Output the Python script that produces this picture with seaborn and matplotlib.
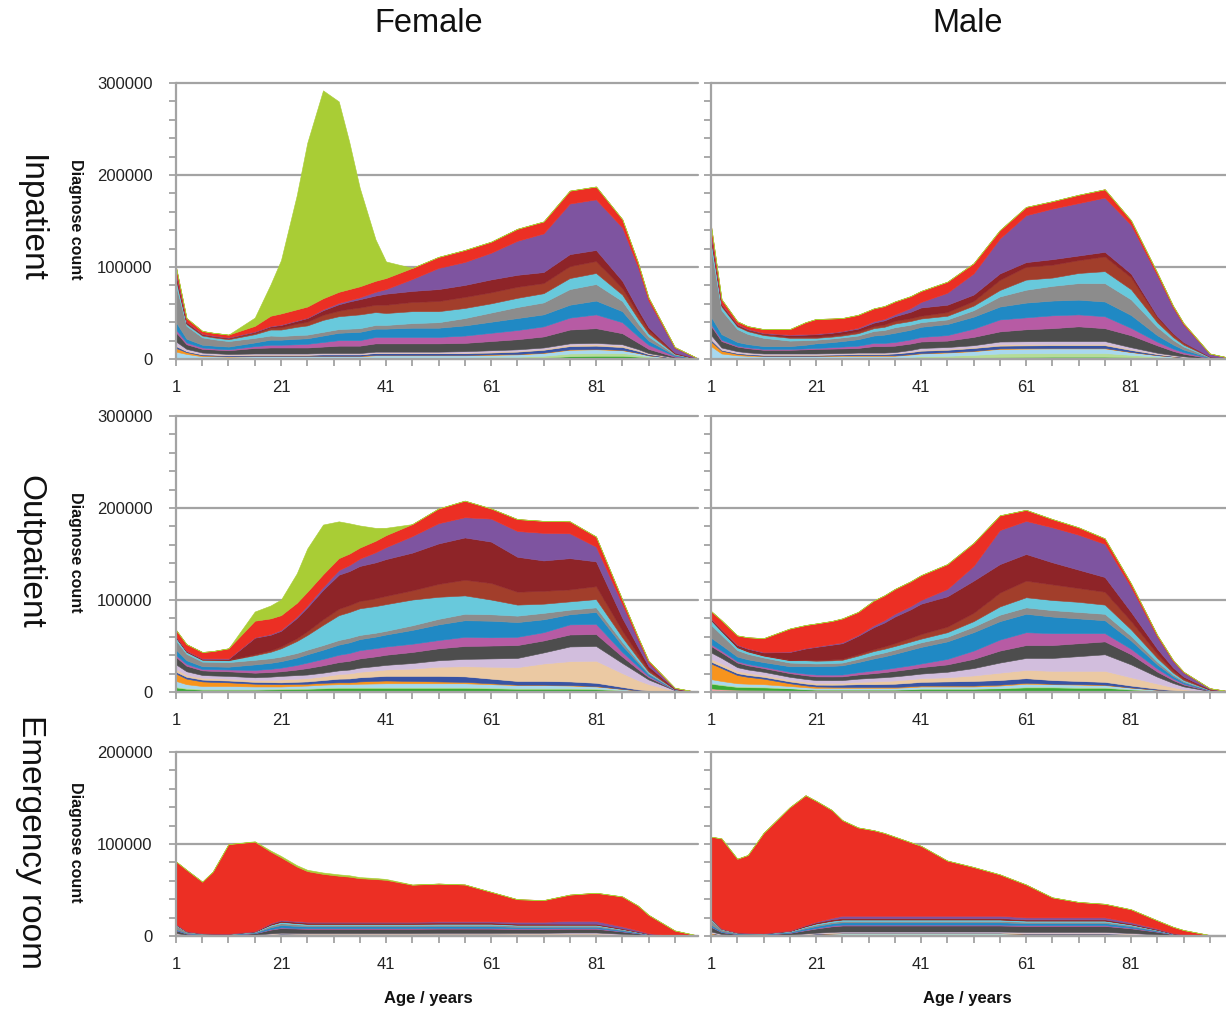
import numpy as np
import matplotlib
matplotlib.use("Agg")
import matplotlib.pyplot as plt
import seaborn as sns
from matplotlib.ticker import FixedLocator, MultipleLocator, FuncFormatter

# ---------------- data (diagnose counts in thousands) ----------------
AGES = [1, 3, 6, 8, 11, 16, 19, 21, 24, 26, 29, 32, 34, 36, 39, 41, 46, 51, 56, 61,
        66, 71, 76, 81, 86, 89, 91, 96, 100]

LAYER_COLORS = ["#f4a6a6", "#3aaa35", "#b5dc98", "#a8d8ef", "#f7941d", "#3853a4",
                "#ebc9a3", "#d2bedd", "#4d4d4d", "#b75ba4", "#2089c4", "#8c8c8c",
                "#68c9dc", "#a23e2b", "#8e2428", "#7e54a0", "#ec2f24", "#a9cd35"]

Z = [0, 0, 0, 0, 0, 0, 0, 0, 0, 0, 0, 0, 0, 0, 0, 0, 0, 0, 0, 0, 0, 0, 0, 0, 0, 0, 0, 0, 0]

# Inpatient, female
if_pink   = [0,0,0,0,0, 0,0,0,0,0, 0,0,0,0,0, 0,0,0,0,0, 0,0,1,1.5,1.5, 1,.5,.1,0]
if_green  = [1,1,.5,.5,.5, .5,.5,.5,.5,.5, .5,.5,.5,.5,1, 1,1,1,1,1, 1,1.5,2,2,2, 1.5,1,.3,0]
if_lgreen = [1,.5,.5,.5,.5, .5,.5,.5,.5,.5, .5,.5,.5,.5,1, 1,1,1,1,1.5, 1.5,2,3,3,3, 2,1.2,.3,0]
if_lblue  = [6,4,2,2,1.5, 2,2,2,2,2, 2,2,2,2,2, 2,2,2,2,2, 2.5,3,4,4,3, 2,1.2,.3,0]
if_orange = [4,2,1,.7,.5, .5,.5,.5,.5,.5, .5,.5,.5,.5,.5, .5,.5,.5,.5,.5, .5,.5,.5,.5,.5, .3,.2,0,0]
if_dblue  = [2,1,1,1,1, 1,1,1,1,1, 1.5,1.5,1.5,1.5,2, 2,2,2,2,2, 2.5,3,3.5,3.5,3, 2,1.2,.3,0]
if_peach  = [1,.5,.5,.5,.5, .5,.5,.5,.5,.5, .5,.5,.5,.5,.5, .5,.5,.5,.5,1, 1,1,1.5,1.5,1.5, 1,.6,.1,0]
if_lav    = [4,2,1.5,1.2,1, 1,1,1,1,1, 1,1,1,1,1, 1,1,1,1.5,1.5, 1.5,1.5,1.5,1.5,1.5, 1,.6,.1,0]
if_dgray  = [10,5,4,4,4, 6,6.5,6.5,6.5,6.5, 7,8,8,8,9, 9,9,9,9,10, 11,12,15,16,12, 7,4.5,.9,.15]
if_mag    = [3,2,1.5,1.2,1, 2,3,3,3.5,4, 5,6,6,6,7, 7,7,7,8,9, 10,11,13,15,12, 7,4.5,.9,.15]
if_sblue  = [8,4,3,3,3, 4,5.5,5.5,6,6, 7,8,8.5,9,9, 9,10,10,11,12, 13,13,14,15,12, 7,4.5,.9,.15]
if_gray   = [40,14,8,7,6, 5,4.5,4,4,4, 4,4,4,4,4, 4,5,6,8,10, 12,13,17,18,11, 7,4.5,.9,.15]
if_cyan   = [6,2,2,2,2, 4,6.5,7,9,10, 13,14,14.5,15,14, 13,13,12,11,10, 10,10,12,12,7, 5,3.3,.6,.1]
if_sienna = [3,1,1,1,1, 1.5,2,2.5,3.5,4, 5.5,6,7,7.5,8, 9,10,11,12,12, 12,11,13,13,7, 5,3.3,.6,.1]
if_dred   = [3,1,.5,.5,.5, 1,1.5,2.5,3,4, 5,7,8,9,10, 12,12,13,13,14, 13,12,13,12,8, 5,3.3,.6,.1]
if_purple = [2,.5,.5,.5,.5, .5,.5,.5,.5,.5, 1,1.5,1.5,2,4, 5,13,23,25,29, 37,42,55,55,58, 46,29,5.3,.8]
if_red    = [6,4,3,3,3, 6,11,12,12,12, 12,12,12,12,12, 12,12,12,13,12, 13,13,14,14,9, 5,3.5,.8,.2]
if_ygreen = [0,0,0,0,0, 9,34,58,124,178, 226,207,160,107,45, 18,0,0,0,0, 0,0,0,0,0, 0,0,0,0]

# Inpatient, male
im_pink   = [0,0,0,0,0, 0,0,0,0,0, 0,0,0,0,0, 0,0,0,0,.3, .5,.5,.5,.5,.3, .2,.1,0,0]
im_green  = [1,.5,.5,.5,.5, .5,.5,.5,.5,.5, .5,.5,.5,.5,.8, 1,1,1.5,2,2, 2,2,2,1.5,.8, .5,.4,0,0]
im_lgreen = [1,.5,.5,.5,.5, .5,.5,.5,.8,1, 1,1,1,1,1.5, 2,2.5,3,4,4, 4,4,4,2.5,1.5, 1,.7,.1,0]
im_lblue  = [12,5,3,2.5,2, 2,2,2,2,2, 2,2,2,2,2.5, 3,3.5,4,5,5, 5,5,5,3,1.5, 1,.7,.1,0]
im_orange = [5,3,1.5,1,.5, .5,.5,.5,.5,.5, .5,.5,.5,.5,.5, .5,.5,.5,.5,.5, .5,.5,.5,.3,.2, .1,0,0,0]
im_dblue  = [2,1,1,1,1, 1,1,1,1,1, 1.5,1.5,1.5,2,2.2, 2.5,2.5,3,3,3, 3,3,3,2,1, .6,.4,.1,0]
im_peach  = [1,.5,.5,.5,.5, .5,.5,.5,.5,.5, .5,.5,.5,.5,.8, 1,1,1,1.5,1.5, 1.5,1.5,1.5,1,.5, .3,.2,0,0]
im_lav    = [4,2,1.5,1.2,1, 1,1,1,1,1, 1,1,1,1,1.5, 2,2,2,3,3, 3,3,3,2,1, .6,.4,.1,0]
im_dgray  = [10,7,5,4.5,4, 4,4.5,5,5,5, 5,7,7,7,7, 7,7,9,11,13, 14,16,14,13,8, 4.5,2.8,.4,.1]
im_mag    = [2,1.5,1,1,1, 1,1,1,1.5,2, 2.5,3.5,3.5,4,4.5, 5,6,9,13,13, 14,13,13,8,4, 2.5,1.8,.3,.05]
im_sblue  = [8,6,4,3.5,3, 3,4,5,5.5,6, 7,8,9,10,10.5, 11,12,13,14,16, 16,16,16,14,7, 4.5,2.8,.4,.1]
im_gray   = [75,26,14,11,9, 6,5,4,4,4, 4,5,5,6,5.5, 5,5,7,11,14, 16,18,20,17,9, 5,3.3,.5,.1]
im_cyan   = [8,4,3,3,3, 3,2.5,2,2,2, 2.5,3,3.5,4,4, 4,4,5,7,11, 9,11,13,11,5, 3,2,.3,.05]
im_sienna = [3,1.5,1,1,1, 1,1,1,1.2,1.5, 2,2,2.5,3,3, 3,4,5,11,14, 14,14,16,13,5, 3,2,.3,.05]
im_dred   = [3,1,1,1,1, 2,2.5,3,3,3, 3,4,4.5,5,7, 9,8,7,7,5, 6,5,5,4,2, 1.2,.7,.1,0]
im_purple = [2,.5,.5,.5,.5, .5,.5,.5,.5,.5, 1,1.5,1.5,2,4, 6,13,23,38,51, 55,57,59,53,44, 28,19,3,.45]
im_red    = [8,5,3,3,4, 6,13,16,15,14, 14,14,14,14,13, 12,12,11,9,9, 8,9,9,5,3, 2,1.7,.3,.1]
im_ygreen = Z

# Outpatient, female
of_pink   = [1,.5,.5,.5,.5, .5,.5,.5,.5,.5, .5,.5,.5,.5,.5, .5,.5,.5,.5,.5, .5,.5,.5,.5,.3, .1,.1,0,0]
of_green  = [4,3,2,2,2, 2,2.3,2.5,2.8,3, 3.5,4,4,4,4, 4,4,4,4,3.5, 3,3,3,2.5,1.5, .8,.5,.05,0]
of_lgreen = [1,1,1,1,1, 1,1,1,1,1, 1,1,1,1,1, 1,1,1,1,1, 1,1,1,1,.5, .3,.2,0,0]
of_lblue  = [6,4,3,3,3, 2.5,2.2,2,2.3,2.5, 3,3,3,3.5,3.8, 4,4,4,4,3.5, 3,3,2.5,2,1, .5,.3,.05,0]
of_orange = [8,6,5,4.5,4, 3,2.7,2.5,2.2,2, 2,2,2,2.5,2.8, 3,2.5,2,1.5,1, .5,.5,.5,.5,.2, .1,0,0,0]
of_dblue  = [2,2,2,2,2, 2,2,2,2.3,2.5, 3,4,4.2,4.5,4.8, 5,5.5,6,6,5, 4,4,4,3.5,2, 1,.5,.05,0]
of_peach  = [3,2,2,2,2, 2,2.5,3,3.3,3.5, 4,5,5.5,6,6.5, 7,8,10,11,13, 15,19,22,24,15, 10,7,1.1,.1]
of_lav    = [5,4,3,3,3, 3,3.5,4,4,4, 4,4,4.2,4.5,4.8, 5,6,7,8,9, 10,12,16,16,11, 8,5,.8,.1]
of_dgray  = [8,6,5,5,5, 5,5,5,6,7, 8,9,9.5,10,10.5, 11,12,13,14,14, 14,13,13,13,7, 4,2.5,.3,0]
of_mag    = [2,2,1.5,1.8,2, 3,3.5,4,5,6, 7,8,8.5,9,9, 9,9,9,10,9, 9,9,11,11,5, 3,1.5,.2,0]
of_sblue  = [6,4,3,3,3, 6,6.5,7,8,9, 10,11,11.5,12,12.5, 13,15,17,18,18, 16,14,11,13,7, 4,2,.2,0]
of_gray   = [10,7,5,5,5, 5,5,5,5,5, 5,5,5,4.5,4.2, 4,5,6,7,7, 7,7,5,5,4, 2,1,.1,0]
of_cyan   = [3,2,2,2,2, 5,7,9,13,16, 22,27,28,29,29, 29,28,24,20,16, 12,10,9,9,5, 3,1.5,.2,0]
of_sienna = [.5,.5,.5,.5,.5, 1,1.5,2,3,4, 6,7,7.5,8,8.5, 9,10,14,17,18, 14,14,13,14,7, 4,2,.2,0]
of_dred   = [.5,.5,.5,.7,1, 18,17,17,22,26, 32,37,37,38,39, 40,41,44,46,45, 38,33,34,27,14, 8,4,.5,.05]
of_purple = [.5,.5,.5,.5,.5, .5,.8,1,1.5,2, 3,5,6.5,8,11, 13,18,22,22,25, 28,30,27,16,15, 8,4,.5,.05]
of_red    = [7,7,7,8,11, 18,17,16,15,15, 14,13,12.5,12,12.5, 13,13,16,18,11, 13,13,13,11,5, 3,2,.3,.02]
of_ygreen = [0,0,0,0,0, 10,14,17,32,47, 54,40,33,24,14, 8,0,0,0,0, 0,0,0,0,0, 0,0,0,0]

# Outpatient, male
om_pink   = [4,3,2.5,2.2,2, 1.5,.8,.5,.5,.5, .5,.5,.5,.5,.5, .5,.5,.5,.5,1, 1,1,1,.7,.3, .2,.1,0,0]
om_green  = [5,4.5,3,3,3, 2.5,2.2,2,2,2, 2,2,2,2,2.5, 3,3,3,3.5,4, 4,3.5,3.5,2,1.1, .6,.3,.05,0]
om_lgreen = [1,1,1,1,1, .5,.5,.5,.5,.5, .5,.5,.5,.5,.5, .5,.5,.5,.5,1, 1,1,1,.7,.3, .2,.1,0,0]
om_lblue  = [4,3.5,3,2.8,2.5, 2,1.7,1.5,1.5,1.5, 1.5,1.5,1.5,1.5,1.8, 2,2,2,2.5,3, 2.5,2.5,2,1.3,.8, .4,.2,.05,0]
om_orange = [17,14,9,7.5,6, 3,2,1.5,1.2,1, 1,1,1,1,1, 1,1,1,1,1, .5,.5,.5,.3,0, 0,0,0,0]
om_dblue  = [2,2,2,2,2, 2,2,2,2.2,2.5, 3,3,3.2,3.5,3.8, 4,4.5,5,5,5, 4,3.5,3,2,1.1, .6,.4,.05,0]
om_peach  = [3,3,2.5,2.2,2, 2,2,2,2,2, 2.5,3,3.2,3.5,3.8, 4,4.5,6,8,9, 10,11,12,9,5.5, 3.3,2,.4,.1]
om_lav    = [7,6,4,3.8,3.5, 3,3,3,3,3, 3.5,4,4.2,4.5,4.8, 5,6,8,11,13, 14,16,18,14,7.5, 4.5,3,.55,.1]
om_dgray  = [7,6,5,4.5,4, 4,4,4,4,4, 4.5,5,5.5,6,6.5, 7,8,10,13,14, 14,14,14,11,5.5, 3.2,2,.4,.1]
om_mag    = [2,2,1.5,1.5,1.5, 1.5,1.8,2,2,2, 2.5,3,3.2,3.5,3.8, 4,6,9,12,14, 13,11,9,6,3.3, 1.8,1.1,.2,0]
om_sblue  = [7,6,5,5,5, 6,8,9,9.5,10, 11,13,14,15,17, 18,19,20,20,20, 18,16,14,9,4.5, 2.5,1.6,.3,0]
om_gray   = [14,11,7,6,5, 4,3.5,3,3,3, 3.5,4,4.2,4.5,4.8, 5,5,6,7,7, 7,7,7,5,3, 1.6,1,.2,0]
om_cyan   = [5,4,3,2.5,2, 2.5,3,3,3,3, 3.5,4,4,4,4, 4,5,6,9,11, 11,11,10,7,4, 2.2,1.3,.25,0]
om_sienna = [.5,.5,.5,.5,.5, .5,.8,1,1,1, 1.5,2,2.5,3,4, 5,6,9,15,18, 17,15,14,9,4.5, 2.5,1.6,.3,0]
om_dred   = [1,1,2,2.5,3, 8.5,12,14,16,17, 20,24,26,29,31, 33,33,35,31,29, 24,20,16,10,5.5, 3,2,.4,.05]
om_purple = [.5,.5,.5,.5,.5, .5,.5,.5,.8,1, 1,2,2.5,3,3.5, 4,8,16,37,36, 38,38,36,27,13, 7,4.5,.8,.1]
om_red    = [8,10,10,12,15, 25,25,25,25,26, 25,27,27,27,27, 27,27,25,16,12, 9,8,6,4,2, 1.2,.8,.15,.05]
om_ygreen = Z

# Emergency room, female
ef_pink   = Z
ef_green  = [.2,.1,.1,.1,.1, .3,.4,.5,.5,.5, .5,.5,.5,.5,.5, .5,.5,.5,.5,.5, .5,.5,.5,.5,.3, .2,.1,0,0]
ef_lgreen = [.2,.1,.1,.1,.1, .3,.8,1,.9,.8, .8,.8,.8,.8,.8, .8,.8,.8,.8,.8, .7,.7,.7,.7,.4, .2,.1,0,0]
ef_lblue  = [1,.4,.2,.2,.2, .2,.4,.5,.4,.4, .4,.4,.4,.4,.4, .4,.4,.4,.4,.4, .4,.4,.4,.4,.2, .15,.1,0,0]
ef_orange = [.8,.4,.2,.15,.1, .1,.1,.1,.1,.1, .1,.1,.1,.1,.1, .1,.1,.1,.1,.1, .05,.05,.05,.05,0, 0,0,0,0]
ef_dblue  = [.3,.1,.1,.1,.1, .2,.4,.5,.5,.5, .5,.5,.5,.5,.5, .5,.5,.5,.5,.5, .4,.4,.4,.4,.3, .2,.1,0,0]
ef_peach  = [.2,.1,.1,.1,.1, .2,.4,.5,.5,.5, .5,.5,.5,.5,.5, .5,.5,.6,.6,.6, .7,.7,.8,.8,.5, .3,.2,0,0]
ef_lav    = [.5,.2,.1,.1,.1, .2,.4,.5,.5,.5, .5,.5,.5,.5,.5, .5,.5,.6,.6,.6, .8,.8,1,1,.7, .4,.2,0,0]
ef_dgray  = [3,1.3,.8,.7,.7, 1.5,4,5,4.7,4.5, 4.5,4.5,4.5,4.5,4.5, 4.5,4.5,4.5,4.5,4.5, 4,4,4,4,2.5, 1.5,.7,.1,0]
ef_mag    = [.3,.1,.1,.1,.1, .2,.6,.8,.7,.7, .7,.7,.7,.7,.7, .7,.7,.7,.7,.7, .7,.7,.7,.7,.4, .2,.1,0,0]
ef_sblue  = [1,.4,.3,.3,.3, .6,2,2.5,2.2,2, 2,2,2,2,2, 2,2,2,2,2, 1.7,1.7,1.5,1.5,1, .6,.3,0,0]
ef_gray   = [4,1.5,.6,.5,.4, .6,1.6,2,1.7,1.5, 1.5,1.5,1.5,1.5,1.5, 1.5,1.5,1.5,1.5,1.5, 1.3,1.3,1.2,1.2,.8, .4,.2,0,0]
ef_cyan   = [.8,.3,.2,.2,.2, .5,1.2,1.5,1.3,1.2, 1.2,1.2,1.2,1.2,1.2, 1.2,1.2,1.2,1.2,1.2, 1,1,1,1,.6, .4,.2,0,0]
ef_sienna = [.2,.1,.05,.05,.05, .1,.25,.3,.3,.3, .3,.3,.3,.3,.3, .3,.3,.3,.3,.3, .3,.3,.3,.3,.2, .1,.05,0,0]
ef_dred   = [.3,.1,.05,.05,.05, .2,.8,1,1,1, 1,1,1,1,1, 1,1,1,1,1, .9,.9,.8,.8,.5, .3,.15,0,0]
ef_purple = [.2,.1,.05,.05,.05, .1,.6,.8,.9,1, 1,1,1,1,1, 1,1,1.2,1.2,1.2, 2,2,3,3,2, 1.2,.5,.1,0]
ef_red    = [68,66.7,56,67.2,97.3, 97.2,77.8,68,59.3,55, 52,50,49,47.3,46.4, 45.5,40.2,41.1,40.1,32.1,
             24.55,23.55,28.65,30.65,32.6, 26.85,20,5.8,1]
ef_ygreen = [0,0,0,0,0, .5,1.2,1.5,1.5,1.5, 1.5,1.5,1.5,1.2,1.1, 1,.3,0,0,0, 0,0,0,0,0, 0,0,0,0]

# Emergency room, male
em_pink   = Z
em_green  = [.3,.2,.1,.1,.1, .3,.6,.8,.9,1, 1,1,1,1,1, 1,1,1,1,.8, .8,.8,.8,.6,.3, .2,.1,0,0]
em_lgreen = [.3,.2,.1,.1,.1, .4,.8,1,1.3,1.5, 1.5,1.5,1.5,1.5,1.5, 1.5,1.5,1.5,1.5,1.2, 1.2,1.2,1.2,.8,.4, .2,.1,0,0]
em_lblue  = [1.5,.6,.3,.25,.2, .2,.3,.4,.5,.5, .5,.5,.5,.5,.5, .5,.5,.5,.5,.4, .4,.4,.4,.3,.15, .05,0,0,0]
em_orange = [1,.5,.2,.15,.1, .1,.1,.1,.1,.1, .1,.1,.1,.1,.1, .1,.1,.1,.1,.05, .05,.05,.05,0,0, 0,0,0,0]
em_dblue  = [.5,.2,.1,.1,.1, .2,.3,.4,.5,.5, .5,.5,.5,.5,.5, .5,.5,.5,.5,.4, .4,.4,.4,.3,.15, .05,.05,0,0]
em_peach  = [.3,.1,.1,.1,.1, .2,.3,.4,.5,.5, .5,.5,.5,.5,.5, .5,.5,.5,.5,.6, .6,.6,.6,.5,.3, .1,.1,0,0]
em_lav    = [1,.4,.2,.15,.1, .2,.4,.5,.7,.8, .8,.8,.8,.8,.8, .8,.8,.8,.8,1, 1,1,1,.8,.5, .1,.1,0,0]
em_dgray  = [5,2,1,.9,.8, 1.8,3.5,4.5,6,6.5, 6.5,6.5,6.5,6.5,6.5, 6.5,6.5,6.5,6.5,6.5, 6.5,6.5,6.5,5,2.8, 1.2,.7,.1,0]
em_mag    = [.5,.2,.1,.1,.1, .2,.5,.7,.9,1, 1,1,1,1,1, 1,1,1,1,.9, .9,.9,.9,.7,.4, .15,.1,0,0]
em_sblue  = [2,.8,.4,.4,.4, .8,1.6,2,2.3,2.5, 2.5,2.5,2.5,2.5,2.5, 2.5,2.5,2.5,2.5,2.2, 2.2,2.2,2.2,1.6,.8, .35,.2,.05,0]
em_gray   = [5,2,.9,.7,.5, .6,1.2,1.5,1.5,1.5, 1.5,1.5,1.5,1.5,1.5, 1.5,1.5,1.5,1.5,1.4, 1.4,1.4,1.4,1,.5, .15,.1,0,0]
em_cyan   = [1.5,.6,.3,.3,.3, .5,1,1.3,1.4,1.5, 1.5,1.5,1.5,1.5,1.5, 1.5,1.5,1.5,1.5,1.3, 1.3,1.3,1.3,1,.5, .15,.1,0,0]
em_sienna = [.3,.1,.05,.05,.05, .1,.2,.3,.3,.3, .3,.3,.3,.3,.3, .3,.3,.3,.3,.3, .3,.3,.3,.2,.1, .05,0,0,0]
em_dred   = [.5,.2,.1,.07,.05, .3,.8,1,1.2,1.3, 1.3,1.3,1.3,1.3,1.3, 1.3,1.3,1.3,1.3,1, 1,1,1,.7,.4, .15,.1,0,0]
em_purple = [.3,.1,.05,.05,.05, .1,.3,.5,1.5,2.5, 2.5,2.5,2.5,2.5,2.5, 2.5,2.5,2.5,2.5,2.2, 2.2,2.2,2.2,1.5,.7, .3,.2,.05,0]
em_red    = [88,97.8,80,84.5,109, 134,141.1,131.6,117.4,104, 96,93,90,86,80, 76,60,53,45,35.75,
             21.75,16.75,14.75,14,9, 6.8,4.55,.8,0]
em_ygreen = Z

COL_TITLES = ["Female", "Male"]
ROW_TITLES = ["Inpatient", "Outpatient", "Emergency room"]
XTICK_MAJOR = [1, 21, 41, 61, 81]
XTICK_MINOR = [6, 11, 16, 26, 31, 36, 46, 51, 56, 66, 71, 76, 86, 91, 96]
LAYER_KEYS = ["pink", "green", "lgreen", "lblue", "orange", "dblue", "peach", "lav",
              "dgray", "mag", "sblue", "gray", "cyan", "sienna", "dred", "purple",
              "red", "ygreen"]


def stack(prefix):
    g = globals()
    return [np.asarray(g[f"{prefix}_{n}"], dtype=float) * 1000 for n in LAYER_KEYS]


PANELS = {(0, 0): "if", (0, 1): "im", (1, 0): "of", (1, 1): "om", (2, 0): "ef", (2, 1): "em"}
YMAX = [300000, 300000, 200000]

# ---------------- styling ----------------
sns.set_theme(style="white")
plt.rcParams["font.family"] = ["Liberation Sans", "DejaVu Sans"]

W, H = 1226, 1009
fig = plt.figure(figsize=(W / 100, H / 100), dpi=100)
GRID = "#a3a3a3"
TXT = "#222222"

row_top = [83, 416, 752]
row_h = [276, 276, 184]
col_left = [176, 711]
col_w = [522, 515]
PX_PER_YEAR = 5.25

for (r, c), key in PANELS.items():
    ax = fig.add_axes([col_left[c] / W, 1 - (row_top[r] + row_h[r]) / H,
                       col_w[c] / W, row_h[r] / H])
    ax.stackplot(AGES, *stack(key), colors=LAYER_COLORS, linewidth=0.4, edgecolor="face")
    ax.set_xlim(1, 1 + col_w[c] / PX_PER_YEAR)
    ax.set_ylim(0, YMAX[r])
    for s in ["top", "right"]:
        ax.spines[s].set_visible(False)
    for s in ["left", "bottom"]:
        ax.spines[s].set_color(GRID)
        ax.spines[s].set_linewidth(1.6)
    ax.xaxis.set_major_locator(FixedLocator(XTICK_MAJOR))
    ax.xaxis.set_minor_locator(FixedLocator(XTICK_MINOR))
    ax.yaxis.set_major_locator(MultipleLocator(100000))
    ax.yaxis.set_minor_locator(MultipleLocator(20000))
    ax.yaxis.set_major_formatter(FuncFormatter(lambda v, _: f"{int(v)}"))
    ax.tick_params(which="both", direction="out", color=GRID, width=1.3, length=5,
                   bottom=True, left=True)
    ax.tick_params(axis="x", which="major", pad=10, labelsize=12, labelcolor=TXT)
    ax.tick_params(axis="y", which="major", pad=12, labelsize=12, labelcolor=TXT,
                   labelleft=(c == 0))
    ax.grid(axis="y", which="major", color=GRID, linewidth=1.6)
    ax.grid(axis="x", visible=False)
    ax.set_axisbelow(True)
    for gl in ax.get_ygridlines():
        gl.set_clip_on(False)

# column titles
for c, t in enumerate(COL_TITLES):
    fig.text((col_left[c] + (253 if c == 0 else 257)) / W, 1 - 24 / H, t,
             ha="center", va="center", fontsize=23.5, color="#111111")

# row titles and y labels
for r, t in enumerate(ROW_TITLES):
    yc = 1 - (row_top[r] + row_h[r] / 2 - 2) / H
    fig.text(30 / W, yc, t, rotation=270, ha="center", va="center",
             fontsize=24, color="#111111")
    fig.text(75 / W, yc, "Diagnose count", rotation=270, ha="center", va="center",
             fontsize=11.5, fontweight="bold", color="#111111")

# x labels
for xc in [428, 967]:
    fig.text(xc / W, 1 - 998 / H, "Age / years", ha="center", va="center",
             fontsize=12, fontweight="bold", color="#111111")

fig.savefig("out.png", dpi=100)
